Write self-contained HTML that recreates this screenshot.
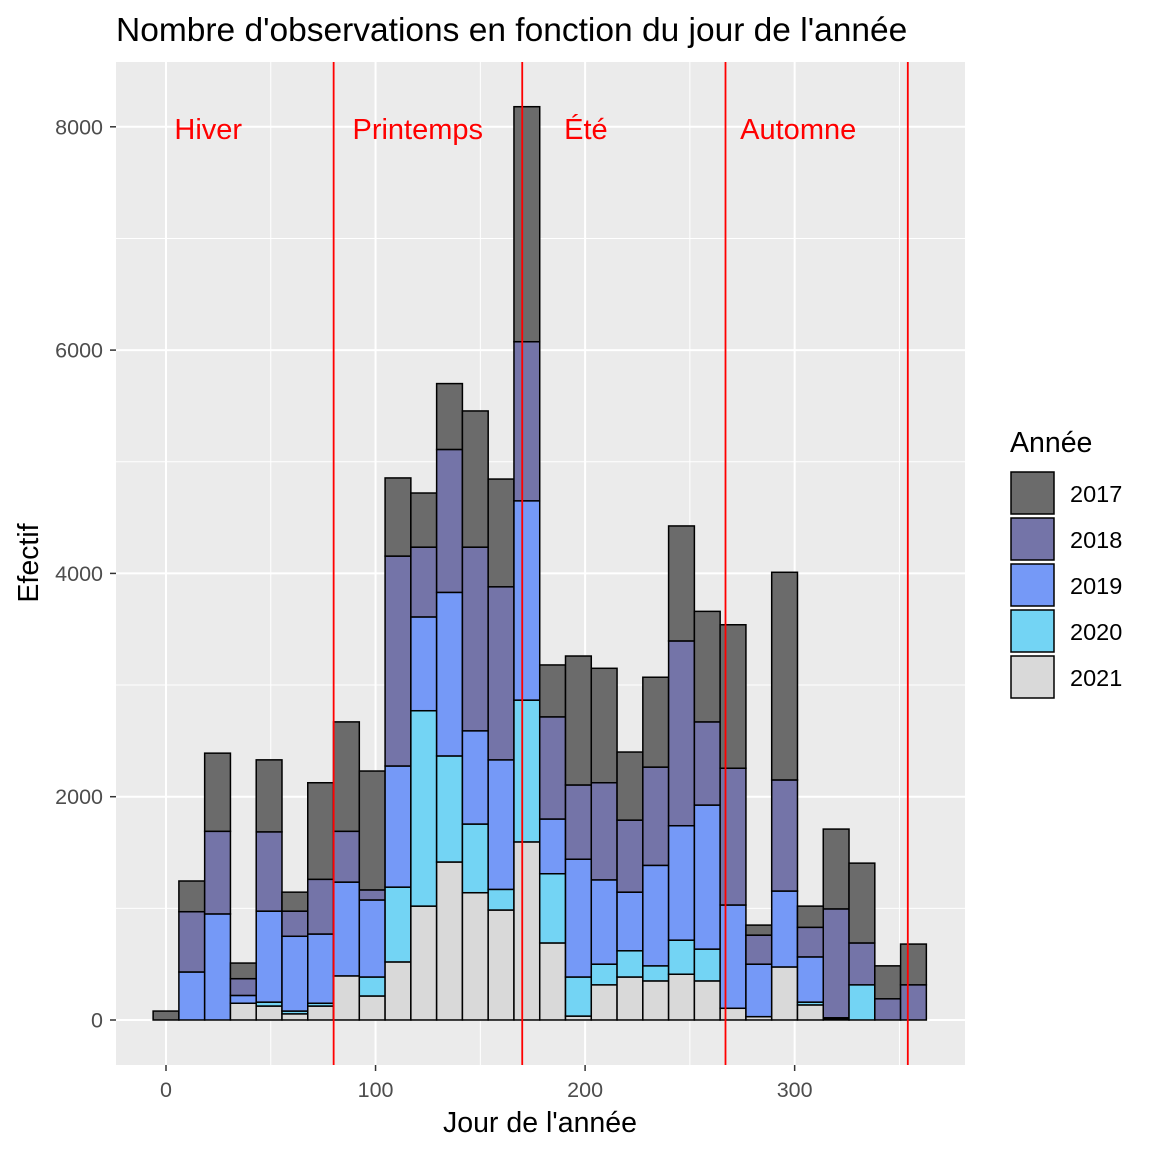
<!DOCTYPE html>
<html><head><meta charset="utf-8"><style>
body{margin:0;background:#fff;}
svg{display:block;font-family:"Liberation Sans",Arial,sans-serif;}
</style></head><body>
<svg id="chart" width="1152" height="1152" viewBox="0 0 1152 1152">
<rect width="1152" height="1152" fill="#fff"/>
<text x="116" y="41" font-size="33.5" fill="#000">Nombre d'observations en fonction du jour de l'année</text>
<rect x="116" y="62" width="849" height="1003" fill="#ebebeb"/>
<g id="grid"></g>
<g id="bars"></g>
<g id="vlines"></g>
<g id="axes"></g>
<text x="540" y="1132" font-size="28.5" text-anchor="middle" fill="#000">Jour de l'année</text>
<text transform="translate(38,563) rotate(-90)" font-size="28.5" text-anchor="middle" fill="#000">Efectif</text>
<g id="legend"></g>
</svg>
<script>
const years = ["2021","2020","2019","2018","2017"];
const colors = ["#d9d9d9","#73d4f4","#7599f7","#7474a8","#6b6b6b"];
const binCenters = [0,12.3,24.6,36.9,49.2,61.5,73.8,86.1,98.4,110.7,123,135.3,147.6,159.9,172.2,184.5,196.8,209.1,221.4,233.7,246,258.3,270.6,282.9,295.2,307.5,319.8,332.1,344.4,356.7];
const binWidth = 12.3;
const v2021 = [0,0,0,150,125,55,125,395,215,520,1020,1415,1140,985,1595,690,35,315,385,350,410,350,105,30,475,135,10,0,0,0];
const v2020 = [0,0,0,0,35,25,25,0,170,670,1750,950,615,185,1270,620,350,185,235,135,305,285,0,0,0,25,0,315,0,0];
const v2019 = [0,430,950,70,815,670,620,840,690,1085,840,1465,835,1160,1785,490,1055,755,525,900,1025,1290,925,470,680,405,10,0,0,0];
const v2018 = [0,540,740,150,710,225,490,455,90,1880,625,1280,1645,1550,1425,915,665,870,645,880,1655,745,1225,260,995,265,975,375,190,315];
const v2017 = [80,275,700,140,645,170,865,980,1065,700,485,590,1220,965,2105,465,1155,1025,610,805,1030,990,1285,90,1860,190,715,715,295,365];
const yTicks = [0,2000,4000,6000,8000];
const yMinor = [1000,3000,5000,7000];
const xTicks = [0,100,200,300];
const xMinor = [50,150,250,350];
const seasonDays = [80,170,267,354];
const seasonNames = ["Hiver","Printemps","Été","Automne"];
const seasonLabelDays = [4,89,190,274];

const NS="http://www.w3.org/2000/svg";
const X = d => 166 + d*2.0955;
const Y = v => 1020 - v*0.11165;
function mk(tag, attrs, parent){const e=document.createElementNS(NS,tag);for(const k in attrs)e.setAttribute(k,attrs[k]);parent.appendChild(e);return e;}
const grid=document.getElementById('grid'), bars=document.getElementById('bars'), vl=document.getElementById('vlines'), axes=document.getElementById('axes'), leg=document.getElementById('legend');

yMinor.forEach(v=>{const l=mk('line',{x1:116,x2:965,y1:Y(v),y2:Y(v),stroke:'#fff','stroke-width':1},grid);

});
xMinor.forEach(v=>{const l=mk('line',{x1:X(v),x2:X(v),y1:62,y2:1065,stroke:'#fff','stroke-width':1},grid);

});
yTicks.forEach(v=>{const l=mk('line',{x1:116,x2:965,y1:Y(v),y2:Y(v),stroke:'#fff','stroke-width':2},grid);


const t=mk('line',{x1:110,x2:116,y1:Y(v),y2:Y(v),stroke:'#333','stroke-width':1.5},axes);


const tx=mk('text',{x:103,y:Y(v)+7.5,'font-size':21.5,'text-anchor':'end',fill:'#4d4d4d'},axes);tx.textContent=v;

});
xTicks.forEach(v=>{const l=mk('line',{x1:X(v),x2:X(v),y1:62,y2:1065,stroke:'#fff','stroke-width':2},grid);


const t=mk('line',{x1:X(v),x2:X(v),y1:1065,y2:1071,stroke:'#333','stroke-width':1.5},axes);


const tx=mk('text',{x:X(v),y:1097,'font-size':21.5,'text-anchor':'middle',fill:'#4d4d4d'},axes);tx.textContent=v;

});

const series=[v2021,v2020,v2019,v2018,v2017];
binCenters.forEach((c,i)=>{let cum=0;
series.forEach((s,k)=>{const v=s[i];if(v<=0)return;
const r=mk('rect',{x:X(c-binWidth/2),y:Y(cum+v),width:X(c+binWidth/2)-X(c-binWidth/2),height:Y(cum)-Y(cum+v),fill:colors[k],stroke:'#000','stroke-width':1.5},bars);


cum+=v;});});

seasonDays.forEach(d=>{const l=mk('line',{x1:X(d),x2:X(d),y1:62,y2:1065,stroke:'#ff0000','stroke-width':1.8},vl);

});
seasonNames.forEach((n,i)=>{const t=mk('text',{x:X(seasonLabelDays[i]),y:139,'font-size':29,fill:'#ff0000'},vl);t.textContent=n;

});

const lt=mk('text',{x:1010,y:452,'font-size':28.5,fill:'#000'},leg);lt.textContent='Année';


const order=[4,3,2,1,0];
order.forEach((k,j)=>{const y=472+j*46;
const r=mk('rect',{x:1011,y:y,width:43,height:42,fill:colors[k],stroke:'#000','stroke-width':1.5},leg);


const t=mk('text',{x:1070,y:y+30,'font-size':23.5,fill:'#000'},leg);t.textContent=years[k];

});
</script>
</body></html>
